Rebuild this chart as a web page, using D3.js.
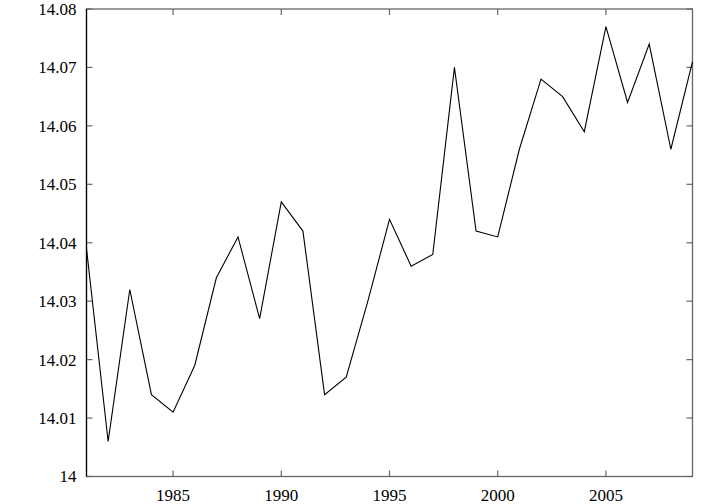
<!DOCTYPE html>
<html>
<head>
<meta charset="utf-8">
<script src="https://cdn.jsdelivr.net/npm/d3@7"></script>
<style>
  body { margin: 0; background: #fff; }
  text { font-family: "Liberation Serif", "DejaVu Serif", serif; font-size: 17px; fill: #000; }
</style>
</head>
<body>
<svg width="720" height="504"></svg>
<script>
var years = d3.range(1981, 2010);
var temps = [14.039, 14.006, 14.032, 14.014, 14.011, 14.019, 14.034, 14.041, 14.027, 14.047,
             14.042, 14.014, 14.017, 14.030, 14.044, 14.036, 14.038, 14.070, 14.042, 14.041,
             14.056, 14.068, 14.065, 14.059, 14.077, 14.064, 14.074, 14.056, 14.071];
var xTicks = [1985, 1990, 1995, 2000, 2005];
var yTicks = [14, 14.01, 14.02, 14.03, 14.04, 14.05, 14.06, 14.07, 14.08];

var svg = d3.select("svg"),
    margin = { top: 9, right: 27.5, bottom: 27.5, left: 86.5 },
    width = 720 - margin.left - margin.right,
    height = 504 - margin.top - margin.bottom;

var x = d3.scaleLinear().domain([1981, 2009]).range([0, width]);
var y = d3.scaleLinear().domain([14, 14.08]).range([height, 0]);

var g = svg.append("g")
    .attr("transform", "translate(" + margin.left + "," + margin.top + ")");

var tickLen = 6, axisColor = "#666";

// tick marks, mirrored on all sides and pointing inwards
g.selectAll(".xt").data(xTicks).enter().append("g")
  .attr("class", "xt")
  .each(function (d) {
    var s = d3.select(this);
    s.append("line").attr("x1", x(d)).attr("x2", x(d)).attr("y1", height).attr("y2", height - tickLen);
    s.append("line").attr("x1", x(d)).attr("x2", x(d)).attr("y1", 0).attr("y2", tickLen);
  })
  .selectAll("line").attr("stroke", axisColor).attr("stroke-width", 1.2);

g.selectAll(".yt").data(yTicks).enter().append("g")
  .attr("class", "yt")
  .each(function (d) {
    var s = d3.select(this);
    s.append("line").attr("x1", 0).attr("x2", tickLen).attr("y1", y(d)).attr("y2", y(d));
    s.append("line").attr("x1", width).attr("x2", width - tickLen).attr("y1", y(d)).attr("y2", y(d));
  })
  .selectAll("line").attr("stroke", axisColor).attr("stroke-width", 1.2);

// border
g.append("rect")
  .attr("width", width).attr("height", height)
  .attr("fill", "none").attr("stroke", axisColor).attr("stroke-width", 1.3);
g.append("line")
  .attr("x1", 0).attr("x2", 0).attr("y1", 0).attr("y2", height)
  .attr("stroke", "#000").attr("stroke-width", 1.2);

// tick labels
g.selectAll(".xl").data(xTicks).enter().append("text")
  .attr("x", function (d) { return x(d); })
  .attr("y", height + 24)
  .attr("text-anchor", "middle")
  .text(function (d) { return d; });

g.selectAll(".yl").data(yTicks).enter().append("text")
  .attr("x", -10)
  .attr("y", function (d) { return y(d); })
  .attr("dy", "0.35em")
  .attr("text-anchor", "end")
  .text(function (d) { return d3.format("")(+d.toFixed(2)); });

// data line
var line = d3.line()
  .x(function (d, i) { return x(years[i]); })
  .y(function (d) { return y(d); });

g.append("path")
  .datum(temps)
  .attr("fill", "none")
  .attr("stroke", "#000")
  .attr("stroke-width", 1.1)
  .attr("d", line);
</script>
</body>
</html>
